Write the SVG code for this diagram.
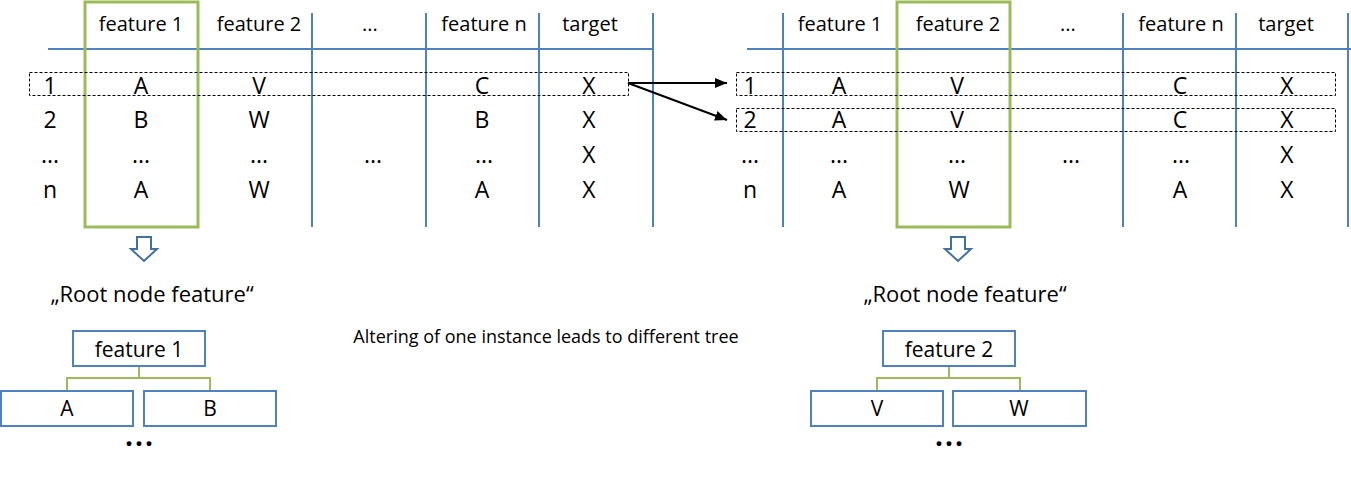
<svg xmlns="http://www.w3.org/2000/svg" width="1351" height="478" viewBox="0 0 1351 478">
<defs>
<style>
text{font-family:"Open Sans","Noto Sans","Liberation Sans",sans-serif;fill:#000;text-anchor:middle}
.h{font-size:20px}
.v{font-size:23px}
.t{font-size:21px}
.grid{stroke:#4F81BD;stroke-width:2;fill:none}
.sel{stroke:#9BBB59;stroke-width:3;fill:none}
.dash{stroke:#000;stroke-width:1;stroke-dasharray:3,2;fill:none}
.box{stroke:#4F81BD;stroke-width:2;fill:#fff}
.tree{stroke:#9BBB59;stroke-width:2;fill:none}
.blk{stroke:#41719C;stroke-width:2;fill:#fff}
.arr{stroke:#000;stroke-width:2;fill:none}
.dots{font-size:28px;font-weight:bold;letter-spacing:2px}
</style>
<marker id="ah" viewBox="0 0 12 10" refX="12" refY="5" markerWidth="12" markerHeight="10" markerUnits="userSpaceOnUse" orient="auto">
<path d="M0,0 L12,5 L0,10 z" fill="#000"/>
</marker>
</defs>
<rect width="1351" height="478" fill="#fff"/>

<g id="table-left">
<line class="grid" x1="48" y1="49" x2="654" y2="49"/>
<line class="grid" x1="312" y1="13" x2="312" y2="227"/>
<line class="grid" x1="426" y1="13" x2="426" y2="227"/>
<line class="grid" x1="539" y1="13" x2="539" y2="227"/>
<line class="grid" x1="653" y1="13" x2="653" y2="227"/>
<rect class="sel" x="85" y="2" width="113" height="225"/>
<rect class="dash" x="29.5" y="72.5" width="599" height="23"/>
<text class="h" x="141" y="31">feature 1</text>
<text class="h" x="259" y="31">feature 2</text>
<text class="h" x="370" y="31">...</text>
<text class="h" x="484" y="31">feature n</text>
<text class="h" x="590" y="31">target</text>
<g class="v">
<text x="50" y="94">1</text><text x="141" y="94">A</text><text x="259" y="94">V</text><text x="482" y="94">C</text><text x="589" y="94">X</text>
<text x="50" y="128">2</text><text x="141" y="128">B</text><text x="259" y="128">W</text><text x="482" y="128">B</text><text x="589" y="128">X</text>
<text x="50" y="163">...</text><text x="141" y="163">...</text><text x="259" y="163">...</text><text x="373" y="163">...</text><text x="484" y="163">...</text><text x="589" y="163">X</text>
<text x="50" y="198">n</text><text x="141" y="198">A</text><text x="259" y="198">W</text><text x="482" y="198">A</text><text x="589" y="198">X</text>
</g>
</g>

<g id="table-right">
<line class="grid" x1="747" y1="49" x2="1351" y2="49"/>
<line class="grid" x1="783" y1="13" x2="783" y2="227"/>
<line class="grid" x1="1123" y1="13" x2="1123" y2="227"/>
<line class="grid" x1="1236" y1="13" x2="1236" y2="227"/>
<line class="grid" x1="1348" y1="13" x2="1348" y2="227"/>
<rect class="sel" x="897" y="2" width="113" height="225"/>
<rect class="dash" x="736.5" y="72.5" width="599" height="23"/>
<rect class="dash" x="736.5" y="108.5" width="599" height="23"/>
<text class="h" x="840" y="31">feature 1</text>
<text class="h" x="958" y="31">feature 2</text>
<text class="h" x="1068" y="31">...</text>
<text class="h" x="1181" y="31">feature n</text>
<text class="h" x="1286" y="31">target</text>
<g class="v">
<text x="750" y="94">1</text><text x="839" y="94">A</text><text x="957" y="94">V</text><text x="1180" y="94">C</text><text x="1287" y="94">X</text>
<text x="750" y="128">2</text><text x="839" y="128">A</text><text x="957" y="128">V</text><text x="1180" y="128">C</text><text x="1287" y="128">X</text>
<text x="750" y="163">...</text><text x="839" y="163">...</text><text x="957" y="163">...</text><text x="1071" y="163">...</text><text x="1181" y="163">...</text><text x="1287" y="163">X</text>
<text x="750" y="198">n</text><text x="839" y="198">A</text><text x="959" y="198">W</text><text x="1180" y="198">A</text><text x="1287" y="198">X</text>
</g>
</g>

<g id="connectors">
<line class="arr" x1="628" y1="83" x2="727" y2="83" marker-end="url(#ah)"/>
<line class="arr" x1="628" y1="83" x2="727" y2="120" marker-end="url(#ah)"/>
<path class="tree" d="M139,366 V378 M67,391 V378 H210 V391"/>
<path class="tree" d="M949,366 V378 M877,391 V378 H1020 V391"/>
</g>

<g id="down-arrow-left">
<path class="blk" d="M137,237 H151 V249 H157 L144,261 L131,249 H137 Z"/>
</g>
<g id="down-arrow-right">
<path class="blk" d="M951,237 H965 V249 H971 L958,261 L945,249 H951 Z"/>
</g>

<g id="label-left"><text x="152" y="302" font-size="22">„Root node feature“</text></g>
<g id="label-right"><text x="965" y="302" font-size="22">„Root node feature“</text></g>

<g id="note"><text x="546" y="343" font-size="18">Altering of one instance leads to different tree</text></g>

<g id="tree-left">
<g id="root-left"><rect class="box" x="73" y="331" width="132" height="35"/><text class="t" x="139" y="357">feature 1</text></g>
<g id="leaf-A"><rect class="box" x="1" y="391" width="132" height="35"/><text class="t" x="67" y="416">A</text></g>
<g id="leaf-B"><rect class="box" x="144" y="391" width="132" height="35"/><text class="t" x="210" y="416">B</text></g>
<text class="dots" x="140" y="446">...</text>
</g>

<g id="tree-right">
<g id="root-right"><rect class="box" x="883" y="331" width="132" height="35"/><text class="t" x="949" y="357">feature 2</text></g>
<g id="leaf-V"><rect class="box" x="811" y="391" width="132" height="35"/><text class="t" x="877" y="416">V</text></g>
<g id="leaf-W"><rect class="box" x="953" y="391" width="133" height="35"/><text class="t" x="1019" y="416">W</text></g>
<text class="dots" x="950" y="446">...</text>
</g>
</svg>
